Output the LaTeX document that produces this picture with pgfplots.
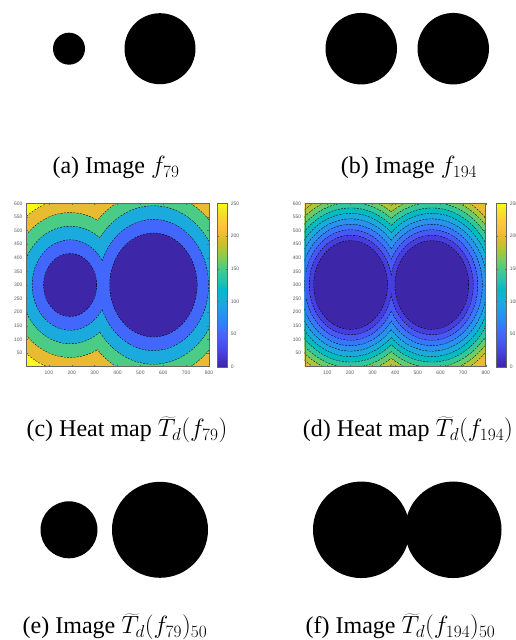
\documentclass[border=0pt]{standalone}
\usepackage{fontspec}
\setmainfont{Liberation Serif}
\newfontfamily\tickfont{Liberation Sans}
\usepackage{pgfplots}
\usepackage{pgfplotstable}
\pgfplotsset{compat=1.18}

\pgfplotsset{
  colormap={parula}{
    rgb=(0.2422,0.1504,0.6603) rgb=(0.2647,0.1978,0.7952) rgb=(0.2783,0.2559,0.8991)
    rgb=(0.2810,0.3228,0.9579) rgb=(0.2699,0.3892,0.9906) rgb=(0.2206,0.4603,0.9973)
    rgb=(0.1786,0.5289,0.9682) rgb=(0.1540,0.5902,0.9218) rgb=(0.1248,0.6459,0.8883)
    rgb=(0.0689,0.6948,0.8394) rgb=(0.0067,0.7312,0.7660) rgb=(0.1408,0.7584,0.6842)
    rgb=(0.2161,0.7843,0.5923) rgb=(0.3406,0.8008,0.4789) rgb=(0.5044,0.7993,0.3480)
    rgb=(0.6720,0.7793,0.2227) rgb=(0.8203,0.7498,0.1535) rgb=(0.9393,0.7288,0.2100)
    rgb=(0.9970,0.7659,0.2199) rgb=(0.9892,0.8136,0.1885) rgb=(0.9610,0.8890,0.1537)
    rgb=(0.9769,0.9839,0.0805)},
}

% elliptic mark, radii set per point
\pgfdeclareplotmark{ell}{%
  \pgfpathellipse{\pgfpointorigin}{\pgfqpoint{\rx}{0pt}}{\pgfqpoint{0pt}{\ry}}%
  \ifnum\kk=0 \pgfusepathqstroke\else\pgfusepathqfill\fi}

\pgfplotsset{
  disks/.style n args={2}{%
    only marks, scatter, mark=ell, point meta=explicit,
    visualization depends on={\thisrow{r}\as\rad},
    visualization depends on={\thisrow{k}\as\kind},
    scatter/@pre marker code/.code={%
      \pgfplotscolormapdefinemappedcolor{\pgfplotspointmetatransformed}%
      \pgfmathsetlengthmacro\rx{\rad*#1}%
      \pgfmathsetlengthmacro\ry{\rad*#2}%
      \pgfmathtruncatemacro\kk{\kind}%
      \ifcase\kk\relax
        \scope[draw=black,line width=0.9pt,dash pattern=on 2pt off 1.2pt]%
      \or \scope[fill=mapped color]%
      \else \scope[fill=black]%
      \fi},
    scatter/@post marker code/.code={\endscope},
  },
  binax/.style={anchor=south west, scale only axis, width=200pt, height=95pt,
    xmin=0, xmax=800, ymin=110, ymax=490, hide axis,
    point meta min=0, point meta max=250, colormap name=parula},
  heat/.style n args={2}{anchor=south west, scale only axis, width=#1, height=163.4pt,
    xmin=0, xmax=800, ymin=0, ymax=600, axis on top,
    clip marker paths=true,
    point meta min=0, point meta max=250, colormap name=parula,
    xtick={100,200,...,800}, ytick={50,100,...,600},
    tick label style={font=\tickfont\fontsize{5}{6}\selectfont, text=black!65},
    /pgf/number format/assume math mode=true,
    xticklabel style={yshift=-1.2pt},
    tick align=inside, major tick length=1.5pt,
    tick style={black!60, line width=0.3pt},
    axis line style={black!60, line width=0.4pt},
    colorbar,
    colorbar style={at={(parent axis.north east)}, anchor=north west, xshift=#2,
      scale only axis, width=10pt, height=163.4pt,
      ytick={0,50,...,250},
      yticklabel style={font=\tickfont\fontsize{5}{6}\selectfont, text=black!65},
      /pgf/number format/assume math mode=true,
      tick align=inside, major tick length=1.5pt,
      tick style={black!60, line width=0.3pt},
      axis line style={black!60, line width=0.4pt}},
  },
}

% ---- binary images: centre x, centre y, radius, meta, kind
\pgfplotstableread{
x y r c k
193 300 64 0 2
557 300 142 0 2
}\bina
\pgfplotstableread{
x y r c k
200 300 143 0 2
568 300 143 0 2
}\binb
\pgfplotstableread{
x y r c k
193 300 114 0 2
557 300 192 0 2
}\bine
\pgfplotstableread{
x y r c k
200 300 193 0 2
568 300 193 0 2
}\binf

% ---- heat map (c): level sets of the distance map, levels 50..250
\pgfplotstableread{
x y r c k
400 300 3000 250 1
193 300 315 200 0
557 300 390 200 0
193 300 315 200 1
557 300 390 200 1
193 300 265 150 0
557 300 340 150 0
193 300 265 150 1
557 300 340 150 1
193 300 215 100 0
557 300 290 100 0
193 300 215 100 1
557 300 290 100 1
193 300 165 50 0
557 300 240 50 0
193 300 165 50 1
557 300 240 50 1
193 300 115 0 0
557 300 190 0 0
193 300 115 0 1
557 300 190 0 1
}\heatc

% ---- heat map (d): levels 20..200
\pgfplotstableread{
x y r c k
400 300 3000 200 1
203 300 342 180 0
562 300 342 180 0
203 300 342 180 1
562 300 342 180 1
203 300 322 160 0
562 300 322 160 0
203 300 322 160 1
562 300 322 160 1
203 300 302 140 0
562 300 302 140 0
203 300 302 140 1
562 300 302 140 1
203 300 282 120 0
562 300 282 120 0
203 300 282 120 1
562 300 282 120 1
203 300 262 100 0
562 300 262 100 0
203 300 262 100 1
562 300 262 100 1
203 300 242 80 0
562 300 242 80 0
203 300 242 80 1
562 300 242 80 1
203 300 222 60 0
562 300 222 60 0
203 300 222 60 1
562 300 222 60 1
203 300 202 40 0
562 300 202 40 0
203 300 202 40 1
562 300 202 40 1
203 300 182 20 0
562 300 182 20 0
203 300 182 20 1
562 300 182 20 1
203 300 162 0 0
562 300 162 0 0
203 300 162 0 1
562 300 162 0 1
}\heatd

\begin{document}
\begin{tikzpicture}
\useasboundingbox (0pt,0pt) rectangle (516pt,640pt);

% (a) and (b)
\begin{axis}[binax, at={(20.75pt,543.8pt)}]
\addplot[disks={0.25}{0.25}] table[x=x,y=y,meta=c]{\bina};
\end{axis}
\begin{axis}[binax, at={(311.25pt,543.8pt)}]
\addplot[disks={0.25}{0.25}] table[x=x,y=y,meta=c]{\binb};
\end{axis}

% (c) and (d)
\begin{axis}[heat={183pt}{-0.2pt}, at={(26pt,273.3pt)}]
\addplot[disks={0.22875}{0.27233}] table[x=x,y=y,meta=c]{\heatc};
\end{axis}
\begin{axis}[heat={181pt}{2.1pt}, at={(304.7pt,273.3pt)}]
\addplot[disks={0.22625}{0.27233}] table[x=x,y=y,meta=c]{\heatd};
\end{axis}

% (e) and (f)
\begin{axis}[binax, at={(20.75pt,62.7pt)}]
\addplot[disks={0.25}{0.25}] table[x=x,y=y,meta=c]{\bine};
\end{axis}
\begin{axis}[binax, at={(311.25pt,62.7pt)}]
\addplot[disks={0.25}{0.25}] table[x=x,y=y,meta=c]{\binf};
\end{axis}

% captions
\begin{scope}[every node/.style={anchor=base, inner sep=0pt, font=\fontsize{24}{28}\selectfont}]
\node at (116pt,466pt) {(a)\ Image $f_{79}$};
\node at (409pt,466pt) {(b)\ Image $f_{194}$};
\node at (127pt,203pt) {(c)\ Heat map $\widetilde{T}_d(f_{79})$};
\node at (408pt,203pt) {(d)\ Heat map $\widetilde{T}_d(f_{194})$};
\node at (115pt,6.2pt) {(e)\ Image $\widetilde{T}_d(f_{79})_{50}$};
\node at (400.5pt,6.2pt) {(f)\ Image $\widetilde{T}_d(f_{194})_{50}$};
\end{scope}
\end{tikzpicture}
\end{document}
